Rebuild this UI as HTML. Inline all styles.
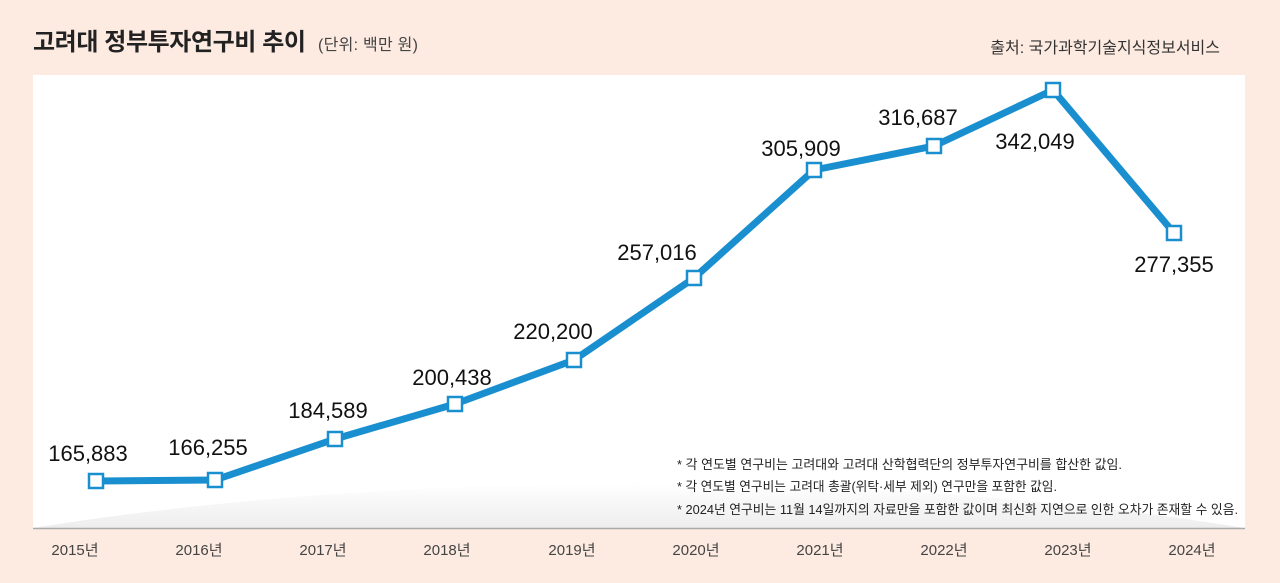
<!DOCTYPE html><html><head><meta charset="utf-8"><style>
body{margin:0;width:1280px;height:583px;background:#fdebe2;overflow:hidden;font-family:"Liberation Sans","Noto Sans CJK KR",sans-serif;}
</style></head><body>
<svg width="1280" height="583" xmlns="http://www.w3.org/2000/svg" style="position:absolute;left:0;top:0">
<defs><linearGradient id="g" x1="0" y1="0" x2="0" y2="1"><stop offset="0" stop-color="#fff"/><stop offset="1" stop-color="#e6e6e6"/></linearGradient></defs>
<rect x="33" y="75" width="1212" height="453" fill="#fff"/>
<path d="M33 528 Q300 485 640 483 Q980 485 1245 528 Z" fill="url(#g)" opacity="0.7"/>
<line x1="33" y1="528.5" x2="1245" y2="528.5" stroke="#aaa" stroke-width="1.5"/>
<text x="33" y="50" font-size="24" font-weight="bold" fill="#222" textLength="273" font-family="Liberation Sans,Noto Sans CJK KR,sans-serif">고려대 정부투자연구비 추이</text>
<text x="318" y="50" font-size="16" fill="#444" textLength="100" font-family="Liberation Sans,Noto Sans CJK KR,sans-serif">(단위: 백만 원)</text>
<text x="1220" y="53" font-size="16" fill="#333" text-anchor="end" font-family="Liberation Sans,Noto Sans CJK KR,sans-serif">출처: 국가과학기술지식정보서비스</text>
<polyline points="96,481 215,480 335,439 455,404 574,360 694,278 814,170 934,146 1053,90 1174,233" fill="none" stroke="#1a8fd0" stroke-width="7" stroke-linejoin="round"/>
<g fill="#fff" stroke="#1a8fd0" stroke-width="2.5">
<rect x="89" y="474" width="14" height="14"/><rect x="208" y="473" width="14" height="14"/><rect x="328" y="432" width="14" height="14"/><rect x="448" y="397" width="14" height="14"/><rect x="567" y="353" width="14" height="14"/><rect x="687" y="271" width="14" height="14"/><rect x="807" y="163" width="14" height="14"/><rect x="927" y="139" width="14" height="14"/><rect x="1046" y="83" width="14" height="14"/><rect x="1167" y="226" width="14" height="14"/>
</g>
<g font-size="22" fill="#111" text-anchor="middle" font-family="Liberation Sans,sans-serif">
<text x="88" y="461">165,883</text><text x="208" y="455">166,255</text><text x="328" y="418">184,589</text><text x="452" y="385">200,438</text><text x="553" y="339">220,200</text><text x="657" y="260">257,016</text><text x="801" y="156">305,909</text><text x="918" y="125">316,687</text><text x="1035" y="149">342,049</text><text x="1174" y="272">277,355</text>
</g>
<g font-size="13" fill="#222" font-family="Liberation Sans,Noto Sans CJK KR,sans-serif">
<text x="677" y="469" textLength="445" lengthAdjust="spacingAndGlyphs">* 각 연도별 연구비는 고려대와 고려대 산학협력단의 정부투자연구비를 합산한 값임.</text>
<text x="677" y="491" textLength="380" lengthAdjust="spacingAndGlyphs">* 각 연도별 연구비는 고려대 총괄(위탁·세부 제외) 연구만을 포함한 값임.</text>
<text x="677" y="514" textLength="561" lengthAdjust="spacingAndGlyphs">* 2024년 연구비는 11월 14일까지의 자료만을 포함한 값이며 최신화 지연으로 인한 오차가 존재할 수 있음.</text>
</g>
<g font-size="15" fill="#444" text-anchor="middle" font-family="Liberation Sans,Noto Sans CJK KR,sans-serif">
<text x="75" y="555">2015년</text><text x="199" y="555">2016년</text><text x="323" y="555">2017년</text><text x="447" y="555">2018년</text><text x="572" y="555">2019년</text><text x="696" y="555">2020년</text><text x="820" y="555">2021년</text><text x="944" y="555">2022년</text><text x="1068" y="555">2023년</text><text x="1192" y="555">2024년</text>
</g>
</svg>
</body></html>
